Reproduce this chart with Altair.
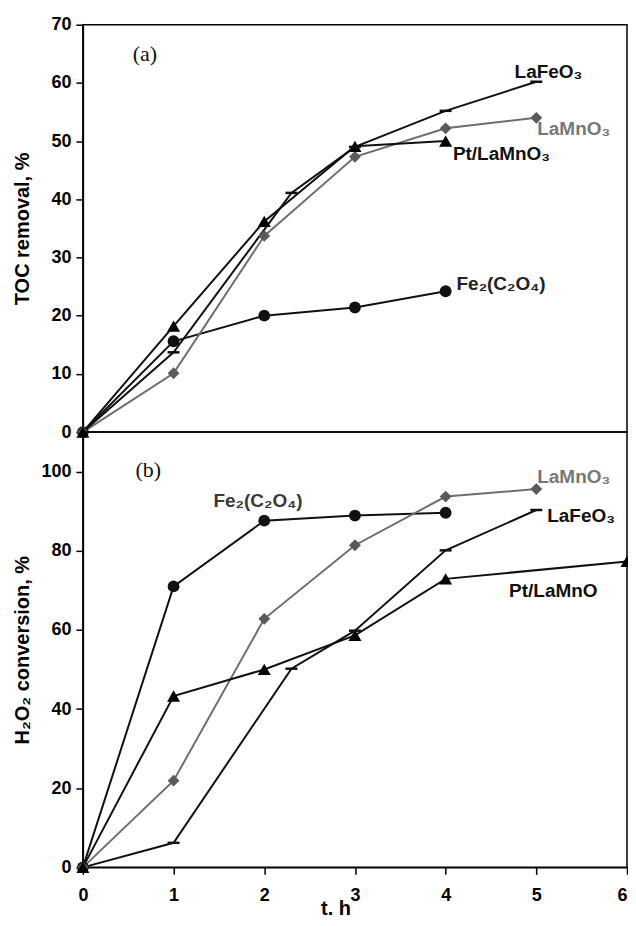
import altair as alt
import pandas as pd

SERIES = ["Fe2(C2O4)", "LaMnO3", "Pt/LaMnO3", "LaFeO3"]

# (a) TOC removal, %
toc_t = {
    "Fe2(C2O4)": [0, 1, 2, 3, 4],
    "LaMnO3": [0, 1, 2, 3, 4, 5],
    "Pt/LaMnO3": [0, 1, 2, 3, 4],
    "LaFeO3": [0, 1, 2.3, 3, 4, 5],
}
toc_v = {
    "Fe2(C2O4)": [0, 15.6, 20.0, 21.4, 24.2],
    "LaMnO3": [0, 10.1, 33.7, 47.3, 52.2, 54.0],
    "Pt/LaMnO3": [0, 18.2, 36.2, 49.1, 50.0],
    "LaFeO3": [0, 13.7, 41.1, 49.0, 55.2, 60.2],
}

# (b) H2O2 conversion, %
h2o2_t = {
    "Fe2(C2O4)": [0, 1, 2, 3, 4],
    "LaMnO3": [0, 1, 2, 3, 4, 5],
    "Pt/LaMnO3": [0, 1, 2, 3, 4, 6],
    "LaFeO3": [0, 1, 2.3, 3, 4, 5],
}
h2o2_v = {
    "Fe2(C2O4)": [0, 71.0, 87.6, 88.9, 89.6],
    "LaMnO3": [0, 21.9, 62.8, 81.4, 93.7, 95.6],
    "Pt/LaMnO3": [0, 43.3, 50.0, 58.6, 72.9, 77.3],
    "LaFeO3": [0, 6.2, 50.2, 59.8, 80.1, 90.3],
}

# annotation labels (text, t, value)
toc_labels = {
    "Fe2(C2O4)": ("Fe₂(C₂O₄)", 4.12, 25.5),
    "LaMnO3": ("LaMnO₃", 5.01, 52.1),
    "Pt/LaMnO3": ("Pt/LaMnO₃", 4.08, 47.7),
    "LaFeO3": ("LaFeO₃", 4.76, 61.9),
}
h2o2_labels = {
    "Fe2(C2O4)": ("Fe₂(C₂O₄)", 1.44, 92.7),
    "LaMnO3": ("LaMnO₃", 5.01, 98.7),
    "Pt/LaMnO3": ("Pt/LaMnO", 4.70, 69.8),
    "LaFeO3": ("LaFeO₃", 5.12, 88.7),
}

x_ticks = [0, 1, 2, 3, 4, 5, 6]
toc_ticks = [0, 10, 20, 30, 40, 50, 60, 70]
h2o2_ticks = [0, 20, 40, 60, 80, 100]

line_color = {"Fe2(C2O4)": "#111111", "LaMnO3": "#6e6e6e", "Pt/LaMnO3": "#111111", "LaFeO3": "#111111"}
marker_fill = {"Fe2(C2O4)": "#111111", "LaMnO3": "#5a5a5a", "Pt/LaMnO3": "#000000"}
marker_shape = {"Fe2(C2O4)": "circle", "LaMnO3": "diamond", "Pt/LaMnO3": "triangle-up"}
marker_size = {"Fe2(C2O4)": 140, "LaMnO3": 140, "Pt/LaMnO3": 170}

FONT = "Liberation Sans"
W = 545


def panel(tdict, vdict, labels, ydom, yticks, ytitle, h, show_x, tag, tag_xy, label_colors):
    xaxis = None
    if show_x:
        xaxis = alt.Axis(values=x_ticks, title="t. h", format="d", tickSize=7,
                         labelPadding=12, titleX=253, titleY=31,
                         titleAlign="center", titleBaseline="top",
                         labelAlign={"condition": {"test": "datum.value == 6", "value": "right"},
                                     "value": "center"})
    xenc = alt.X("t:Q", scale=alt.Scale(domain=[0, 6], nice=False), axis=xaxis)
    yenc = alt.Y("v:Q", scale=alt.Scale(domain=ydom, nice=False),
                 axis=alt.Axis(values=yticks, title=ytitle, tickSize=7, labelPadding=5,
                               titleX=-60, titleY=h / 2, titleAngle=-90,
                               titleAlign="center", titleBaseline="middle"))
    layers = []
    for s in SERIES:
        df = pd.DataFrame({"t": tdict[s], "v": vdict[s], "i": list(range(len(tdict[s])))})
        base = alt.Chart(df)
        layers.append(base.mark_line(color=line_color[s], strokeWidth=2, clip=False)
                      .encode(x=xenc, y=yenc, order="i:Q"))
    for s in SERIES:
        df = pd.DataFrame({"t": tdict[s], "v": vdict[s]})
        base = alt.Chart(df)
        if s == "LaFeO3":
            layers.append(base.transform_filter("datum.t > 0").mark_point(
                shape="M-1,0L1,0", filled=False, stroke="#111111", strokeWidth=2.5,
                size=144, opacity=1, clip=False).encode(x=xenc, y=yenc))
        else:
            layers.append(base.mark_point(
                shape=marker_shape[s], filled=True, fill=marker_fill[s], size=marker_size[s],
                opacity=1, clip=False).encode(x=xenc, y=yenc))
    for s in SERIES:
        txt, lx, ly = labels[s]
        df = pd.DataFrame({"t": [lx], "v": [ly], "label": [txt]})
        layers.append(alt.Chart(df).mark_text(
            align="left", baseline="middle", font=FONT, fontWeight="bold", fontSize=19,
            color=label_colors[s]).encode(x=xenc, y=yenc, text="label:N"))
    tdf = pd.DataFrame({"t": [tag_xy[0]], "v": [tag_xy[1]], "label": [tag]})
    layers.append(alt.Chart(tdf).mark_text(
        align="left", baseline="middle", font="Liberation Serif", fontSize=22,
        color="#111111").encode(x=xenc, y=yenc, text="label:N"))
    return alt.layer(*layers).properties(width=W, height=h)


top = panel(toc_t, toc_v, toc_labels, [0, 70], toc_ticks, "TOC removal, %", 408, False,
            "(a)", (0.55, 64.9),
            {"Fe2(C2O4)": "#222222", "LaMnO3": "#777777", "Pt/LaMnO3": "#111111", "LaFeO3": "#111111"})
bottom = panel(h2o2_t, h2o2_v, h2o2_labels, [0, 110], h2o2_ticks, "H₂O₂ conversion, %", 436, True,
               "(b)", (0.58, 100.3),
               {"Fe2(C2O4)": "#3a3a3a", "LaMnO3": "#777777", "Pt/LaMnO3": "#111111", "LaFeO3": "#111111"})

chart = alt.vconcat(top, bottom, spacing=0, bounds="flush").properties(
    padding={"top": 6, "left": 4, "right": -7, "bottom": 0}
).configure_view(stroke="#000000", strokeWidth=1.5).configure_axis(
    grid=False, domainColor="#000000", domainWidth=1.5, tickColor="#000000", tickWidth=1.5,
    labelFont=FONT, labelFontWeight="bold", labelFontSize=18, labelColor="#000000",
    titleFont=FONT, titleFontWeight="bold", titleFontSize=20, titleColor="#000000"
)

chart.save("out.html", embed_options={"renderer": "svg", "actions": False})
